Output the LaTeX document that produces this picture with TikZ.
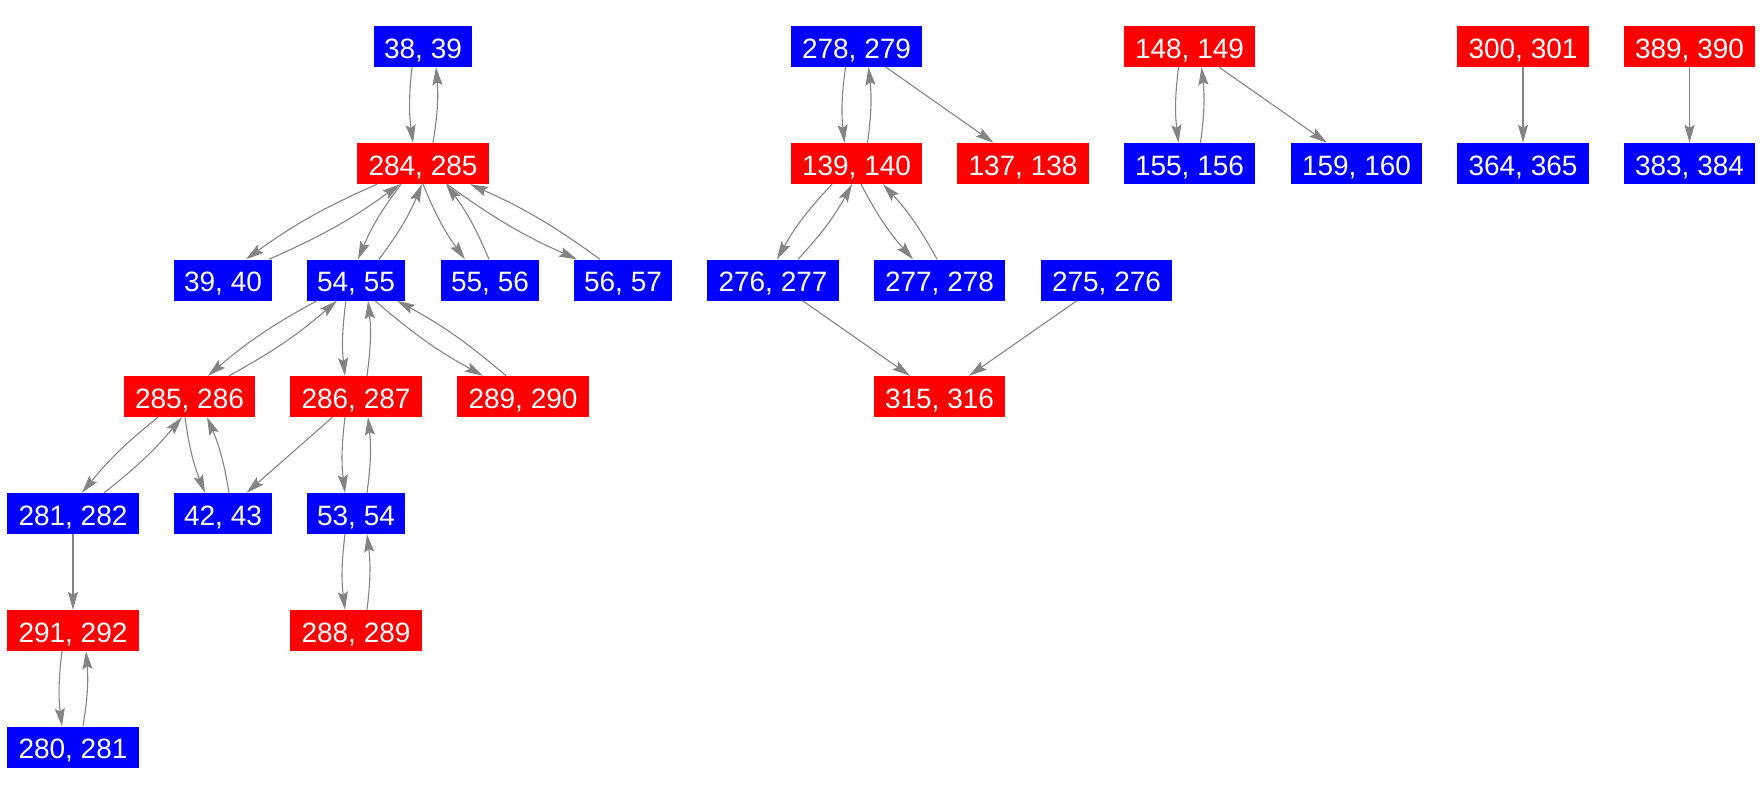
\documentclass[tikz,border=0pt]{standalone}
\usepackage{fontspec}
\setmainfont{Liberation Sans}
\usetikzlibrary{arrows.meta}
\definecolor{edgegray}{RGB}{132,132,132}
\tikzset{
    box/.style={inner sep=0pt, minimum height=41pt, text=white, text height=23.5pt, text depth=0pt, font=\fontsize{28}{34}\selectfont},
    sbox/.style={box, minimum width=98pt},
    wbox/.style={box, minimum width=131.5pt},
    arr/.style={color=edgegray, line width=1.1pt, -{Stealth[length=18pt, width=10pt, inset=3pt]}}
}

\begin{document}
\begin{tikzpicture}[x=1pt, y=1pt]
    \useasboundingbox (0,0) rectangle (1763,-792);
    % first tree
    \node[sbox, fill=blue] (n3839) at (423, -46.5) {38, 39};
    \node[wbox, fill=red] (n284) at (423, -163.5) {284, 285};
    \node[sbox, fill=blue] (n3940) at (223, -280) {39, 40};
    \node[sbox, fill=blue] (n5455) at (356, -280) {54, 55};
    \node[sbox, fill=blue] (n5556) at (490, -280) {55, 56};
    \node[sbox, fill=blue] (n5657) at (623, -280) {56, 57};
    \node[wbox, fill=red] (n285) at (189.5, -396.5) {285, 286};
    \node[wbox, fill=red] (n286) at (356, -396.5) {286, 287};
    \node[wbox, fill=red] (n289) at (523, -396.5) {289, 290};
    \node[wbox, fill=blue] (n281) at (73, -513.5) {281, 282};
    \node[sbox, fill=blue] (n4243) at (223, -513.5) {42, 43};
    \node[sbox, fill=blue] (n5354) at (356, -513.5) {53, 54};
    \node[wbox, fill=red] (n291) at (73, -630.5) {291, 292};
    \node[wbox, fill=red] (n288) at (356, -630.5) {288, 289};
    \node[wbox, fill=blue] (n280) at (73, -747) {280, 281};
    % second tree
    \node[wbox, fill=blue] (n278) at (856.5, -46.5) {278, 279};
    \node[wbox, fill=red] (n139) at (856.5, -163.5) {139, 140};
    \node[wbox, fill=red] (n137) at (1023, -163.5) {137, 138};
    \node[wbox, fill=blue] (n276) at (773, -280) {276, 277};
    \node[wbox, fill=blue] (n277) at (939.5, -280) {277, 278};
    \node[wbox, fill=blue] (n275) at (1106.5, -280) {275, 276};
    \node[wbox, fill=red] (n315) at (939.5, -396.5) {315, 316};
    % small ones
    \node[wbox, fill=red] (n148) at (1189.5, -46.5) {148, 149};
    \node[wbox, fill=blue] (n155) at (1189.5, -163.5) {155, 156};
    \node[wbox, fill=blue] (n159) at (1356.5, -163.5) {159, 160};
    \node[wbox, fill=red] (n300) at (1523, -46.5) {300, 301};
    \node[wbox, fill=blue] (n364) at (1523, -163.5) {364, 365};
    \node[wbox, fill=red] (n389) at (1689.5, -46.5) {389, 390};
    \node[wbox, fill=blue] (n383) at (1689.5, -163.5) {383, 384};

    \path[arr]
    ([xshift=-11pt]n3839.south) edge[bend right=7] ([xshift=-10pt]n284.north)
    ([xshift=10pt]n284.north) edge[bend right=7] ([xshift=13pt]n3839.south)
    ([xshift=-46pt]n284.south) edge[bend right=6] ([xshift=23pt]n3940.north)
    ([xshift=46pt]n3940.north) edge[bend right=6] ([xshift=-23pt]n284.south)
    ([xshift=-22pt]n284.south) edge[bend right=7] ([xshift=2pt]n5455.north)
    ([xshift=23pt]n5455.north) edge[bend right=7] ([xshift=-1pt]n284.south)
    (n284.south) edge[bend right=7] ([xshift=-25pt]n5556.north)
    ([xshift=-1pt]n5556.north) edge[bend right=7] ([xshift=23pt]n284.south)
    ([xshift=24pt]n284.south) edge[bend right=6] ([xshift=-46pt]n5657.north)
    ([xshift=-23pt]n5657.north) edge[bend right=6] ([xshift=47pt]n284.south);

    \path[arr]
    ([xshift=-39pt]n5455.south) edge[bend right=6] ([xshift=18.5pt]n285.north)
    ([xshift=39.5pt]n285.north) edge[bend right=6] ([xshift=-19pt]n5455.south)
    ([xshift=-10pt]n5455.south) edge[bend right=7] ([xshift=-11pt]n286.north)
    ([xshift=11pt]n286.north) edge[bend right=7] ([xshift=12pt]n5455.south)
    ([xshift=19pt]n5455.south) edge[bend right=6] ([xshift=-40pt]n289.north)
    ([xshift=-17pt]n289.north) edge[bend right=6] ([xshift=41pt]n5455.south);

    \path[arr]
    ([xshift=-31.5pt]n285.south) edge[bend right=6] ([xshift=9pt]n281.north)
    ([xshift=31pt]n281.north) edge[bend right=6] ([xshift=-7.5pt]n285.south)
    ([xshift=-4.5pt]n285.south) edge[bend right=7] ([xshift=-18pt]n4243.north)
    ([xshift=6pt]n4243.north) edge[bend right=7] ([xshift=17.5pt]n285.south)
    (n286) edge (n4243)
    ([xshift=-11pt]n286.south) edge[bend right=7] ([xshift=-11pt]n5354.north)
    ([xshift=11pt]n5354.north) edge[bend right=7] ([xshift=12pt]n286.south)
    (n281) edge (n291)
    ([xshift=-11pt]n5354.south) edge[bend right=7] ([xshift=-11pt]n288.north)
    ([xshift=11pt]n288.north) edge[bend right=7] ([xshift=11pt]n5354.south)
    ([xshift=-11pt]n291.south) edge[bend right=7] ([xshift=-11pt]n280.north)
    ([xshift=10pt]n280.north) edge[bend right=7] ([xshift=13pt]n291.south);

    \path[arr]
    ([xshift=-11pt]n278.south) edge[bend right=7] ([xshift=-12pt]n139.north)
    ([xshift=11pt]n139.north) edge[bend right=7] ([xshift=12pt]n278.south)
    (n278) edge (n137)
    ([xshift=-24.5pt]n139.south) edge[bend right=7] ([xshift=4pt]n276.north)
    ([xshift=25pt]n276.north) edge[bend right=7] ([xshift=-4.5pt]n139.south)
    ([xshift=4.5pt]n139.south) edge[bend right=7] ([xshift=-26.5pt]n277.north)
    ([xshift=-2.5pt]n277.north) edge[bend right=7] ([xshift=26.5pt]n139.south)
    (n276) edge (n315)
    (n275) edge (n315);

    \path[arr]
    ([xshift=-11pt]n148.south) edge[bend right=7] ([xshift=-11pt]n155.north)
    ([xshift=11pt]n155.north) edge[bend right=7] ([xshift=12pt]n148.south)
    (n148) edge (n159)
    (n300) edge (n364)
    (n389) edge (n383);
\end{tikzpicture}
\end{document}
